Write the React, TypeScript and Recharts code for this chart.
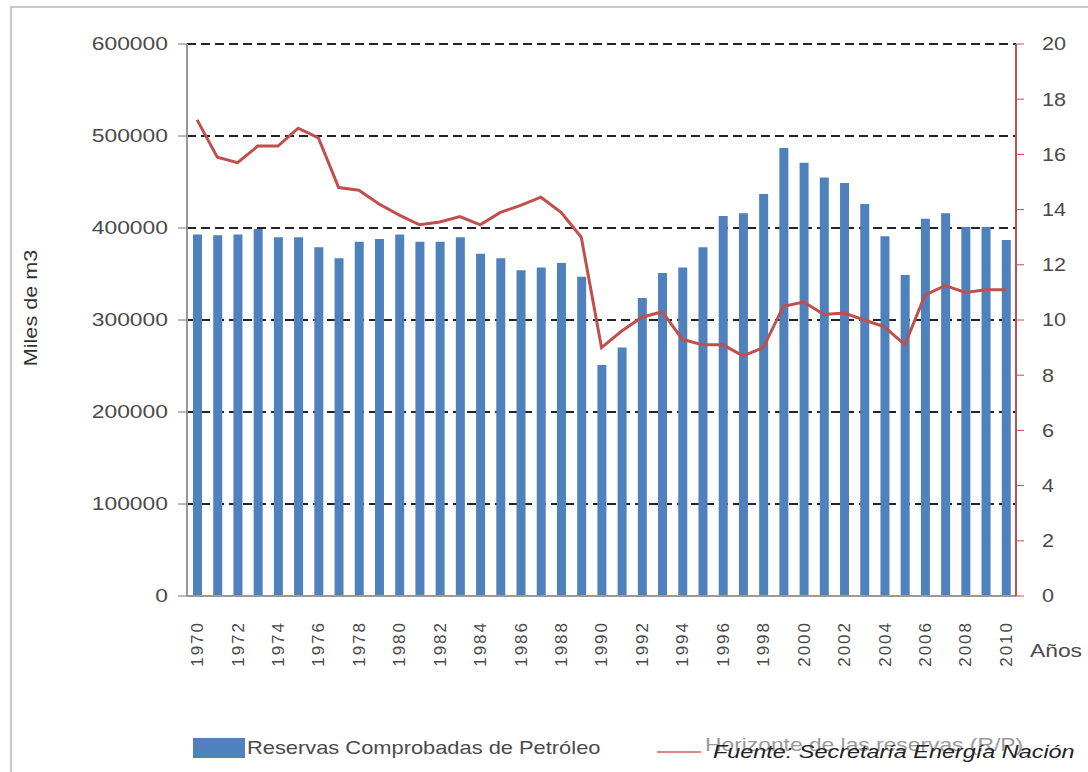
import React from "react";
import {
  ComposedChart,
  Bar,
  Line,
  XAxis,
  YAxis,
  CartesianGrid,
} from "recharts";

const years = [
  "1970", "1971", "1972", "1973", "1974", "1975", "1976", "1977", "1978", "1979",
  "1980", "1981", "1982", "1983", "1984", "1985", "1986", "1987", "1988", "1989",
  "1990", "1991", "1992", "1993", "1994", "1995", "1996", "1997", "1998", "1999",
  "2000", "2001", "2002", "2003", "2004", "2005", "2006", "2007", "2008", "2009",
  "2010",
];

// Reservas comprobadas (miles de m3)
const reservas = [
  393000, 392000, 393000, 399000, 390000, 390000, 379000, 367000, 385000, 388000,
  393000, 385000, 385000, 390000, 372000, 367000, 354000, 357000, 362000, 347000,
  251000, 270000, 324000, 351000, 357000, 379000, 413000, 416000, 437000, 487000,
  471000, 455000, 449000, 426000, 391000, 349000, 410000, 416000, 401000, 401000,
  387000,
];

// Horizonte de las reservas (años, R/P)
const horizonte = [
  17.25, 15.9, 15.7, 16.3, 16.3, 16.95, 16.6, 14.8, 14.7, 14.2,
  13.8, 13.45, 13.55, 13.75, 13.45, 13.9, 14.15, 14.45, 13.9, 13.0,
  9.0, 9.6, 10.1, 10.3, 9.3, 9.1, 9.1, 8.7, 9.0, 10.5,
  10.65, 10.2, 10.25, 10.0, 9.75, 9.1, 10.9, 11.25, 11.0, 11.1,
  11.1,
];

const leftTicks = [0, 100000, 200000, 300000, 400000, 500000, 600000];
const rightTicks = [0, 2, 4, 6, 8, 10, 12, 14, 16, 18, 20];
const gridValues = [100000, 200000, 300000, 400000, 500000, 600000];

const data = years.map((y, i) => ({
  year: y,
  reservas: reservas[i],
  horizonte: horizonte[i],
}));

const FONT = "'Liberation Sans', Arial, sans-serif";
const TICK_COLOR = "#4a4a4a";
const BLUE = "#4f81bd";
const RED = "#c0504d";

const LeftTick = (props: any) => {
  const { x, y, payload } = props;
  return (
    <g transform={`translate(${x - 8},${y}) scale(1.27,1)`}>
      <text textAnchor="end" dy="0.35em" fontSize={18} fill={TICK_COLOR} fontFamily={FONT}>
        {payload.value}
      </text>
    </g>
  );
};

const RightTick = (props: any) => {
  const { x, y, payload } = props;
  return (
    <g transform={`translate(${x + 16},${y}) scale(1.2,1)`}>
      <text textAnchor="start" dy="0.35em" fontSize={18} fill={TICK_COLOR} fontFamily={FONT}>
        {payload.value}
      </text>
    </g>
  );
};

const YearTick = (props: any) => {
  const { x, payload } = props;
  return (
    <g transform={`translate(${x},${621}) rotate(-90)`}>
      <text
        textAnchor="end"
        dy="0.35em"
        fontSize={17}
        letterSpacing={2}
        fill={TICK_COLOR}
        fontFamily={FONT}
      >
        {payload.value}
      </text>
    </g>
  );
};

export default function App() {
  return (
    <div
      style={{
        position: "absolute",
        left: 0,
        top: 0,
        width: 1088,
        height: 772,
        overflow: "hidden",
        background: "#fff",
        fontFamily: FONT,
      }}
    >
      <div
        style={{
          position: "absolute",
          left: 10,
          top: 6,
          width: 1100,
          height: 820,
          border: "2px solid #c8c8c8",
        }}
      />
      <div style={{ position: "absolute", left: 0, top: 0 }}>
        <ComposedChart
          width={1088}
          height={772}
          data={data}
          margin={{ top: 44, right: 12, left: 0, bottom: 96 }}
          barCategoryGap={11}
        >
          <CartesianGrid
            yAxisId="left"
            vertical={false}
            horizontalValues={gridValues}
            stroke="#222"
            strokeWidth={2}
            strokeDasharray="9 5"
          />
          <XAxis
            dataKey="year"
            interval={1}
            height={80}
            tick={<YearTick />}
            tickLine={false}
            axisLine={{ stroke: "#999", strokeWidth: 2 }}
          />
          <YAxis
            yAxisId="left"
            orientation="left"
            width={187}
            domain={[0, 600000]}
            ticks={leftTicks}
            interval={0}
            tick={<LeftTick />}
            tickSize={9}
            tickLine={{ stroke: "#777" }}
            axisLine={{ stroke: "#999", strokeWidth: 2 }}
          />
          <YAxis
            yAxisId="right"
            orientation="right"
            width={60}
            domain={[0, 20]}
            ticks={rightTicks}
            interval={0}
            tick={<RightTick />}
            tickSize={8}
            tickLine={{ stroke: RED }}
            axisLine={{ stroke: RED, strokeWidth: 2 }}
          />
          <Bar
            yAxisId="left"
            dataKey="reservas"
            fill={BLUE}
            barSize={9}
            isAnimationActive={false}
          />
          <Line
            yAxisId="right"
            dataKey="horizonte"
            type="linear"
            stroke={RED}
            strokeWidth={3}
            dot={false}
            isAnimationActive={false}
          />
        </ComposedChart>
      </div>

      <div
        style={{
          position: "absolute",
          left: 31,
          top: 308,
          transform: "translate(-50%, -50%) rotate(-90deg) scaleX(1.2)",
          fontSize: 18,
          color: "#333",
          whiteSpace: "nowrap",
        }}
      >
        Miles de m3
      </div>

      <div
        style={{
          position: "absolute",
          left: 1030,
          top: 640,
          fontSize: 19,
          color: TICK_COLOR,
          transform: "scaleX(1.2)",
          transformOrigin: "left",
        }}
      >
        Años
      </div>

      <div
        style={{
          position: "absolute",
          left: 193,
          top: 738,
          width: 52,
          height: 20,
          background: BLUE,
        }}
      />
      <div
        style={{
          position: "absolute",
          left: 247,
          top: 737,
          fontSize: 19,
          color: TICK_COLOR,
          whiteSpace: "nowrap",
          transform: "scaleX(1.15)",
          transformOrigin: "left",
        }}
      >
        Reservas Comprobadas de Petróleo
      </div>

      <div
        style={{
          position: "absolute",
          left: 657,
          top: 751,
          width: 44,
          height: 2,
          background: "#d98a88",
        }}
      />
      <div
        style={{
          position: "absolute",
          left: 705,
          top: 734,
          fontSize: 19,
          color: "#999",
          whiteSpace: "nowrap",
          transform: "scaleX(1.2)",
          transformOrigin: "left",
        }}
      >
        Horizonte de las reservas (R/P)
      </div>
      <div
        style={{
          position: "absolute",
          left: 713,
          top: 742,
          fontSize: 18,
          fontStyle: "italic",
          color: "#222",
          whiteSpace: "nowrap",
          transform: "scaleX(1.3)",
          transformOrigin: "left",
        }}
      >
        Fuente: Secretaría Energía Nación
      </div>
    </div>
  );
}
